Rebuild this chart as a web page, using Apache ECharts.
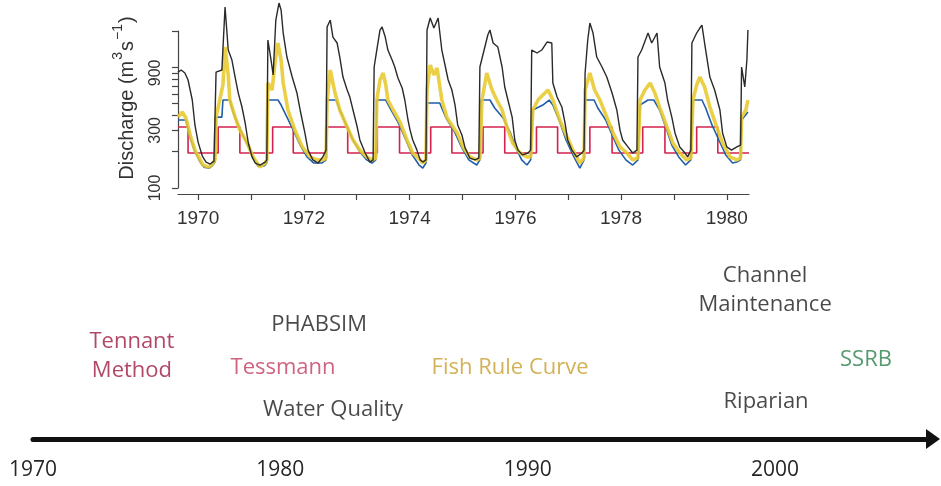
<!DOCTYPE html>
<html>
<head>
<meta charset="utf-8">
<script src="https://cdn.jsdelivr.net/npm/echarts@6/dist/echarts.min.js"></script>
<style>
  html, body { margin: 0; padding: 0; background: #fff; }
  #chart { width: 941px; height: 486px; }
</style>
</head>
<body>
<div id="chart"></div>
<script>
// Daily-flow hydrograph, 1969-1980: [decimal year, discharge m3/s]
const naturalFlow = [
  [1969.62,914],[1969.68,950],[1969.75,897],[1969.81,785],[1969.89,536],[1969.94,333],[1970.00,240],[1970.08,184],[1970.15,164],[1970.23,158],[1970.30,167],
  [1970.34,914],[1970.45,950],[1970.51,3160],[1970.57,1391],[1970.64,1149],[1970.70,831],[1970.76,612],[1970.83,469],[1970.89,346],[1970.95,236],[1971.02,181],[1971.08,161],[1971.17,155],[1971.27,164],[1971.30,171],
  [1971.32,1684],[1971.38,1149],[1971.42,864],[1971.47,2466],[1971.53,3410],[1971.57,2983],[1971.61,1924],[1971.68,1217],[1971.78,831],[1971.87,612],[1971.93,443],[1972.02,286],[1972.08,206],[1972.17,171],[1972.27,161],[1972.36,181],[1972.42,206],
  [1972.44,2158],[1972.50,2466],[1972.55,1782],[1972.63,1590],[1972.68,1217],[1972.74,831],[1972.82,649],[1972.87,567],[1972.93,443],[1973.01,320],[1973.06,250],[1973.16,195],[1973.25,164],[1973.31,171],
  [1973.33,1006],[1973.38,1391],[1973.44,2037],[1973.48,2158],[1973.54,1782],[1973.59,1391],[1973.67,1149],[1973.72,1006],[1973.78,815],[1973.86,674],[1973.91,536],[1973.97,366],[1974.01,302],[1974.06,250],[1974.14,206],[1974.20,171],[1974.25,164],[1974.31,171],
  [1974.33,2037],[1974.39,2562],[1974.46,2117],[1974.54,2562],[1974.61,1391],[1974.67,1045],[1974.73,785],[1974.80,649],[1974.86,487],[1974.91,333],[1974.99,275],[1975.05,215],[1975.14,177],[1975.24,171],[1975.31,177],
  [1975.33,1006],[1975.41,1391],[1975.48,1852],[1975.52,2037],[1975.58,1590],[1975.67,1473],[1975.75,1006],[1975.80,687],[1975.86,536],[1975.94,387],[1975.99,250],[1976.05,206],[1976.14,188],[1976.24,195],[1976.29,206],
  [1976.31,1391],[1976.41,1314],[1976.50,1391],[1976.60,1620],[1976.69,1590],[1976.71,741],[1976.79,567],[1976.88,469],[1976.94,346],[1976.99,250],[1977.07,206],[1977.16,181],[1977.26,195],[1977.30,206],
  [1977.32,897],[1977.37,1684],[1977.41,2328],[1977.47,1924],[1977.54,1217],[1977.64,1006],[1977.73,831],[1977.83,612],[1977.92,443],[1977.98,302],[1978.03,250],[1978.13,219],[1978.22,195],[1978.30,206],
  [1978.32,1217],[1978.39,1391],[1978.51,1924],[1978.58,1590],[1978.68,1924],[1978.73,1006],[1978.83,741],[1978.88,536],[1978.96,387],[1979.02,286],[1979.11,219],[1979.21,195],[1979.26,181],[1979.32,206],
  [1979.34,1590],[1979.43,1924],[1979.49,2117],[1979.53,2241],[1979.58,1590],[1979.68,831],[1979.77,649],[1979.87,443],[1979.92,286],[1980.00,219],[1980.09,206],[1980.19,219],[1980.26,227],
  [1980.28,1006],[1980.34,687],[1980.38,1149],[1980.40,2037]
];

const operationsFlow = [
  [1969.62,366],[1969.77,366],[1969.85,260],[1969.94,199],[1970.04,164],[1970.11,149],[1970.21,146],[1970.28,155],[1970.32,164],
  [1970.34,387],[1970.45,387],[1970.47,536],[1970.60,536],[1970.66,426],[1970.76,333],[1970.89,250],[1971.02,188],[1971.13,152],[1971.25,152],[1971.30,161],
  [1971.32,536],[1971.51,536],[1971.57,487],[1971.66,403],[1971.80,302],[1971.93,227],[1972.06,181],[1972.19,161],[1972.34,161],[1972.42,171],
  [1972.44,536],[1972.61,536],[1972.68,443],[1972.80,333],[1972.93,250],[1973.06,199],[1973.19,171],[1973.29,161],[1973.36,171],
  [1973.38,536],[1973.55,536],[1973.63,460],[1973.78,352],[1973.93,250],[1974.05,188],[1974.18,155],[1974.25,146],[1974.31,161],
  [1974.33,506],[1974.57,506],[1974.69,380],[1974.86,286],[1974.99,215],[1975.12,171],[1975.27,155],[1975.33,171],
  [1975.35,536],[1975.52,536],[1975.61,460],[1975.77,380],[1975.90,291],[1976.01,215],[1976.12,171],[1976.22,155],[1976.29,171],
  [1976.33,443],[1976.52,487],[1976.64,536],[1976.71,487],[1976.84,352],[1976.96,250],[1977.09,188],[1977.22,146],[1977.30,171],
  [1977.32,536],[1977.49,536],[1977.56,460],[1977.71,366],[1977.83,275],[1977.96,206],[1978.09,171],[1978.22,155],[1978.32,171],
  [1978.36,487],[1978.51,536],[1978.62,536],[1978.73,443],[1978.85,314],[1978.96,227],[1979.09,181],[1979.22,155],[1979.32,171],
  [1979.36,536],[1979.53,536],[1979.60,460],[1979.72,333],[1979.85,250],[1979.98,188],[1980.11,161],[1980.19,164],[1980.26,171],
  [1980.28,366],[1980.40,426]
];

const fishRuleFlow = [
  [1969.62,387],[1969.70,426],[1969.77,380],[1969.85,275],[1969.94,206],[1970.04,171],[1970.09,155],[1970.19,149],[1970.26,155],[1970.32,171],
  [1970.34,387],[1970.42,567],[1970.47,714],[1970.51,1473],[1970.57,864],[1970.60,536],[1970.70,387],[1970.79,302],[1970.93,236],[1971.04,181],[1971.17,149],[1971.27,161],[1971.30,171],
  [1971.32,741],[1971.40,649],[1971.46,1149],[1971.51,1590],[1971.57,1149],[1971.61,741],[1971.70,443],[1971.83,302],[1971.97,219],[1972.12,181],[1972.25,171],[1972.36,171],[1972.42,177],
  [1972.44,536],[1972.50,950],[1972.59,612],[1972.68,443],[1972.82,320],[1972.93,250],[1973.06,206],[1973.19,181],[1973.29,171],[1973.36,177],
  [1973.38,536],[1973.44,785],[1973.50,897],[1973.55,714],[1973.59,536],[1973.69,443],[1973.82,352],[1973.95,250],[1974.06,195],[1974.20,171],[1974.25,161],[1974.31,171],
  [1974.33,649],[1974.39,1045],[1974.46,864],[1974.52,987],[1974.61,536],[1974.71,380],[1974.90,286],[1975.01,219],[1975.14,181],[1975.27,171],[1975.33,177],
  [1975.37,536],[1975.46,897],[1975.56,649],[1975.65,536],[1975.75,443],[1975.84,320],[1975.95,236],[1976.09,195],[1976.22,181],[1976.29,181],
  [1976.33,443],[1976.43,536],[1976.52,589],[1976.62,649],[1976.71,536],[1976.84,366],[1976.98,265],[1977.09,206],[1977.22,161],[1977.30,177],
  [1977.32,649],[1977.41,897],[1977.50,649],[1977.60,536],[1977.73,387],[1977.85,286],[1977.98,219],[1978.11,195],[1978.22,171],[1978.32,177],
  [1978.36,536],[1978.45,649],[1978.55,741],[1978.64,612],[1978.73,469],[1978.87,320],[1978.98,236],[1979.11,195],[1979.24,171],[1979.32,177],
  [1979.36,536],[1979.43,714],[1979.49,831],[1979.58,687],[1979.68,469],[1979.81,320],[1979.92,236],[1980.06,181],[1980.19,171],[1980.26,177],
  [1980.28,387],[1980.36,443],[1980.40,536]
];

// Tennant minimum-flow schedule: change points, value held until the next point
const tennantFlow = [
  [1969.62,320],[1969.81,195],[1970.38,320],[1970.79,195],[1971.41,320],[1971.80,195],[1972.42,320],[1972.83,195],
  [1973.39,320],[1973.81,195],[1974.40,320],[1974.80,195],[1975.39,320],[1975.80,195],[1976.40,320],[1976.80,195],
  [1977.41,320],[1977.83,195],[1978.41,320],[1978.83,195],[1979.43,320],[1979.83,195],[1980.42,195]
];

const hydroYearTicks = [1970,1971,1972,1973,1974,1975,1976,1977,1978,1979,1980];
const hydroYearLabels = [1970,1972,1974,1976,1978,1980];
const dischargeTicks = [100,200,300,400,500,600,700,800,900,1000,2000];
const dischargeLabels = [100,300,900];

// Timeline of environmental-flow methods
const timelineYearLabels = [1970,1980,1990,2000];
const methodNames = ['Tennant\nMethod','PHABSIM','Tessmann','Water Quality','Fish Rule Curve','Channel\nMaintenance','SSRB','Riparian'];
const methodYears = [1974.0,1981.57,1980.11,1982.13,1989.29,1999.6,2003.68,1999.64];

// Layout: vertical lane of each method label above the arrow, and its colour
const methodLanes = [2.765,3.82,2.38,0.972,2.38,4.99,2.648,1.24];
const methodColors = ['#9e1a42','#1c1c1c','#c23c5c','#1c1c1c','#c99e2c','#1c1c1c','#2a804b','#1c1c1c'];

const chart = echarts.init(document.getElementById('chart'), null, { renderer: 'canvas' });

const plotFont = 'Liberation Sans';
const slideFont = 'Open Sans';
const plainNumber = v => String(Math.round(v));

const methodPoints = methodNames.map((name, i) => ({
  name: name,
  value: [methodYears[i], methodLanes[i]],
  label: { color: methodColors[i] }
}));

const option = {
  animation: false,
  backgroundColor: '#ffffff',
  textStyle: { fontFamily: plotFont },
  grid: [
    { left: 178, top: 31, width: 571, height: 157 },
    { left: 33, top: 260, width: 900, height: 179 }
  ],
  xAxis: [
    {
      type: 'value', gridIndex: 0, min: 1969.62, max: 1980.42, offset: 6,
      axisLine: { show: true, lineStyle: { color: '#444', width: 1.2 } },
      axisTick: { show: true, length: 6, customValues: hydroYearTicks, lineStyle: { color: '#444', width: 1.2 } },
      axisLabel: { customValues: hydroYearLabels, formatter: plainNumber, fontSize: 19, color: '#333', margin: 15, fontFamily: plotFont },
      splitLine: { show: false }
    },
    {
      type: 'value', gridIndex: 1, min: 1970, max: 2006.39,
      axisLine: { show: true, symbol: ['none', 'triangle'], symbolSize: [20, 14], lineStyle: { color: '#111', width: 5 } },
      axisTick: { show: false },
      axisLabel: { customValues: timelineYearLabels, formatter: plainNumber, fontSize: 21, color: '#262626', margin: 21, fontFamily: slideFont },
      splitLine: { show: false }
    }
  ],
  yAxis: [
    {
      type: 'log', logBase: 10, gridIndex: 0, min: 100, max: 2000,
      axisLine: { show: true, lineStyle: { color: '#444', width: 1.2 } },
      axisTick: { show: true, length: 6, customValues: dischargeTicks, lineStyle: { color: '#444', width: 1.2 } },
      axisLabel: { customValues: dischargeLabels, formatter: plainNumber, rotate: 90, fontSize: 16, color: '#333', margin: 14, fontFamily: plotFont },
      splitLine: { show: false },
      minorTick: { show: false }
    },
    { type: 'value', gridIndex: 1, min: 0, max: 6, show: false }
  ],
  graphic: [
    {
      type: 'text', x: 124, y: 98, rotation: Math.PI / 2, silent: true,
      style: {
        text: '{t|Discharge (m}{s|3}{t|s}{s|−1}{t|)}',
        align: 'center', verticalAlign: 'middle', fill: '#333',
        rich: {
          t: { fontSize: 20, fontFamily: plotFont, fill: '#333', lineHeight: 26, verticalAlign: 'bottom' },
          s: { fontSize: 14, fontFamily: plotFont, fill: '#333', lineHeight: 26, verticalAlign: 'top', padding: [0, 1, 0, 1] }
        }
      }
    }
  ],
  series: [
    {
      name: 'Tennant', type: 'line', xAxisIndex: 0, yAxisIndex: 0, step: 'end',
      data: tennantFlow, showSymbol: false, symbol: 'none', silent: true, clip: false,
      lineStyle: { color: '#d3224f', width: 1.6 }
    },
    {
      name: 'Operations', type: 'line', xAxisIndex: 0, yAxisIndex: 0,
      data: operationsFlow, showSymbol: false, symbol: 'none', silent: true, clip: false,
      lineStyle: { color: '#1f5ea8', width: 1.6 }
    },
    {
      name: 'Fish rule curve', type: 'line', xAxisIndex: 0, yAxisIndex: 0,
      data: fishRuleFlow, showSymbol: false, symbol: 'none', silent: true, clip: false,
      lineStyle: { color: '#e8ca2e', width: 3.6, opacity: 0.88 }
    },
    {
      name: 'Natural', type: 'line', xAxisIndex: 0, yAxisIndex: 0,
      data: naturalFlow, showSymbol: false, symbol: 'none', silent: true, clip: false,
      lineStyle: { color: '#2a2a2a', width: 1.4 }
    },
    {
      name: 'Methods', type: 'scatter', xAxisIndex: 1, yAxisIndex: 1,
      data: methodPoints, symbolSize: 1, silent: true,
      itemStyle: { color: 'rgba(0,0,0,0)' },
      label: {
        show: true, position: 'inside', formatter: '{b}',
        fontFamily: slideFont, fontSize: 22, lineHeight: 29, align: 'center'
      }
    }
  ]
};

chart.setOption(option);
</script>
</body>
</html>
